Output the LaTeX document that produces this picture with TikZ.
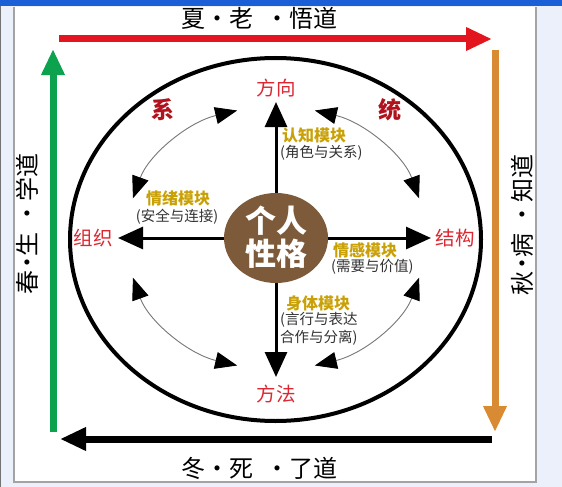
\documentclass[tikz,border=0pt]{standalone}
\usepackage{fontspec}
\setmainfont{Noto Sans CJK SC}
\usetikzlibrary{arrows.meta,calc,shapes.geometric}
\definecolor{winbg}{HTML}{EBF0FA}
\definecolor{winblue}{HTML}{1A5FD6}
\definecolor{framegrey}{HTML}{A3A3A3}
\definecolor{summerred}{HTML}{E3161F}
\definecolor{springgreen}{HTML}{0CA24E}
\definecolor{autumnorange}{HTML}{D98B33}
\definecolor{labelred}{HTML}{DC2833}
\definecolor{sysred}{HTML}{B0131D}
\definecolor{modgold}{HTML}{C9A106}
\definecolor{modgrey}{HTML}{333333}
\definecolor{personbrown}{HTML}{7D5B3A}
\definecolor{arcgrey}{HTML}{777777}
\tikzset{
  framearrow/.style={line width=7pt, -{Triangle[length=26pt,width=22pt]}},
  axisarrow/.style={line width=3pt, -{Triangle[length=25pt,width=22pt]}},
  cyclearrow/.style={draw=arcgrey, line width=0.9pt,
    {Triangle[length=22pt,width=17pt,color=black]}-{Triangle[length=22pt,width=17pt,color=black]}},
  seasontext/.style={inner sep=0pt, text=black, font=\fontsize{24}{24}\selectfont},
  axislabel/.style={inner sep=0pt, text=labelred, font=\fontsize{19.5}{19.5}\selectfont},
  syslabel/.style={inner sep=0pt, text=sysred, font=\bfseries\fontsize{23}{23}\selectfont},
  modtitle/.style={inner sep=0pt, text=modgold, font=\bfseries\fontsize{16}{16}\selectfont},
  modsub/.style={inner sep=0pt, text=modgrey, font=\fontsize{14.5}{18}\selectfont},
}
\newcommand{\sdot}[2]{\hspace{#1pt}\makebox[0pt]{·}\hspace{#2pt}}
\begin{document}
\begin{tikzpicture}[x=1pt,y=-1pt]
\useasboundingbox (0,0) rectangle (562,487);
% window frame
\fill[winbg] (0,0) rectangle (562,487);
\fill[white] (15,7) rectangle (535,481);
\draw[framegrey, line width=1.5pt] (14,7) -- (14,482) -- (536,482) -- (536,7);
\fill[winblue] (0,0) rectangle (562,6);
\draw[black!55, line width=1pt] (0.5,6) -- (0.5,487);

% season coordinates
\coordinate (redS) at (59,39);
\coordinate (redE) at (492,39);
\coordinate (orgS) at (495,50);
\coordinate (orgE) at (495,432);
\coordinate (blkS) at (492,439);
\coordinate (blkE) at (60,439);
\coordinate (grnS) at (53,432);
\coordinate (grnE) at (53,49);
\draw[framearrow, summerred] (redS) -- (redE);
\draw[framearrow, autumnorange] (orgS) -- (orgE);
\draw[framearrow, black] (blkS) -- (blkE);
\draw[framearrow, springgreen] (grnS) -- (grnE);

\node[seasontext] (summer) at (259,18) {夏\sdot{12}{12}老\sdot{25}{11}悟道};
\node[seasontext] (winter) at (259,468) {冬\sdot{12}{12}死\sdot{25}{11}了道};
\node[seasontext, rotate=90] (spring) at (27,224) {春\sdot{7}{6}生\sdot{20}{11}学道};
\node[seasontext, rotate=90] (autumn) at (522,225) {秋\sdot{7}{6}病\sdot{20}{11}知道};

% big ellipse
\draw[line width=4pt] (275.5,239.5) ellipse[x radius=205.5, y radius=181.5];

% centre
\coordinate (ctr) at (276,238);
\node[ellipse, fill=personbrown, minimum width=104pt, minimum height=90pt, inner sep=0pt] (person) at (ctr) {};
\coordinate (tipU) at (276,102);
\coordinate (tipD) at (276,377);
\coordinate (tipL) at (118,238);
\coordinate (tipR) at (431,238);
\draw[axisarrow] (person) -- (tipU);
\draw[axisarrow] (person) -- (tipD);
\draw[axisarrow] (person) -- (tipL);
\draw[axisarrow] (person) -- (tipR);
\node[inner sep=0pt, text=white, align=center, font=\bfseries\fontsize{31}{33}\selectfont] (personlbl) at (276,237.5) {个人\\性格};

% axis labels
\node[axislabel] (dir) at (276,88) {方向};
\node[axislabel] (meth) at (276,394) {方法};
\node[axislabel] (org) at (93,238) {组织};
\node[axislabel] (stru) at (455,238) {结构};
\node[syslabel] (xi) at (163,110) {系};
\node[syslabel] (tong) at (390,110) {统};

% cycle arcs
\coordinate (ulA) at ($(ctr)+(-105:150 and 132)$);
\coordinate (urA) at ($(ctr)+(-75:150 and 132)$);
\coordinate (llA) at ($(ctr)+(162.5:150 and 132)$);
\coordinate (lrA) at ($(ctr)+(17.5:150 and 132)$);
\draw[cyclearrow] (ulA) arc[start angle=-105, end angle=-162.5, x radius=150, y radius=132];
\draw[cyclearrow] (urA) arc[start angle=-75, end angle=-17.5, x radius=150, y radius=132];
\draw[cyclearrow] (llA) arc[start angle=162.5, end angle=105, x radius=150, y radius=132];
\draw[cyclearrow] (lrA) arc[start angle=17.5, end angle=75, x radius=150, y radius=132];

% modules
\node[modtitle, anchor=west] (cogT) at (282,135) {认知模块};
\node[modsub, anchor=west] (cogS) at (280,153) {(角色与关系)};
\node[modtitle] (emoT) at (178,198) {情绪模块};
\node[modsub] (emoS) at (177,217) {(安全与连接)};
\node[modtitle, anchor=west] (affT) at (333,250) {情感模块};
\node[modsub, anchor=west] (affS) at (331,267) {(需要与价值)};
\node[modtitle, anchor=west] (bodT) at (286,303) {身体模块};
\node[modsub, anchor=west, align=left] (bodS) at (280,329) {(言行与表达\\合作与分离)};
\end{tikzpicture}
\end{document}
